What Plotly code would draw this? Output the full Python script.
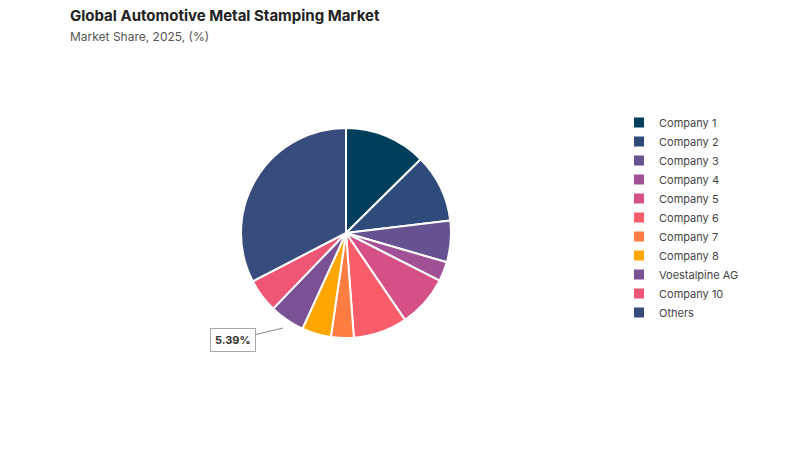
import plotly.graph_objects as go

companies = ["Company 1", "Company 2", "Company 3", "Company 4", "Company 5", "Company 6",
             "Company 7", "Company 8", "Voestalpine AG", "Company 10", "Others"]
shares = [12.6, 10.5, 6.4, 3.0, 8.0, 8.3, 3.5, 4.5, 5.39, 5.2, 32.6]
colors = ["#003f5c", "#2f4b7c", "#665191", "#a05195", "#d45087", "#f95d6a",
          "#ff7c43", "#ffa600", "#7a5195", "#ef5675", "#374c7c"]

fig = go.Figure()
fig.add_trace(go.Pie(labels=companies, values=shares, sort=False, direction="clockwise",
                     rotation=0, textinfo="none", hoverinfo="label+percent",
                     marker=dict(colors=colors, line=dict(color="#ffffff", width=2)),
                     domain=dict(x=[233 / 800, 443 / 800], y=[1 - 330 / 450, 1 - 120 / 450])))

fig.update_layout(
    width=800, height=450, autosize=False,
    paper_bgcolor="#ffffff", plot_bgcolor="#ffffff",
    margin=dict(l=0, r=0, t=0, b=0),
    font=dict(family="Inter, Roboto, sans-serif", color="#333333"),
    title=dict(text="<b>Global Automotive Metal Stamping Market</b><br>"
                    "<span style='font-size:12px;color:#555'>Market Share, 2025, (%)</span>",
               x=62 / 800, xanchor="left", y=1 - 13 / 450, yanchor="top",
               font=dict(size=15, color="#222222")),
    legend=dict(x=611 / 800, xanchor="left", y=1 - 100 / 450, yanchor="top",
                font=dict(size=11, color="#444444"), tracegroupgap=0,
                itemwidth=30),
    annotations=[dict(x=275 / 800, y=1 - 320 / 450, xref="paper", yref="paper",
                      text="<b>5.39%</b>", showarrow=True, arrowhead=0, arrowwidth=1,
                      arrowcolor="#888888", ax=-50, ay=12, bordercolor="#aaaaaa",
                      borderwidth=1, borderpad=4, bgcolor="#ffffff",
                      font=dict(size=11, color="#333333"))],
)

fig.write_html("out.html")
